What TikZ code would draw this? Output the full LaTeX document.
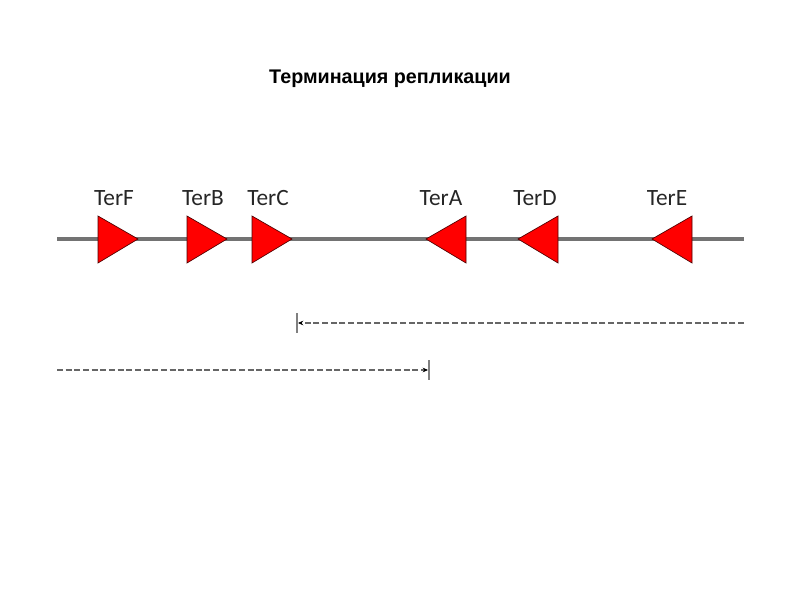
\documentclass[tikz,border=0pt]{standalone}
\usepackage{fontspec}
\setmainfont{Liberation Sans}
\newfontfamily\labelfont{Carlito}
\usetikzlibrary{arrows.meta}
\begin{document}
\begin{tikzpicture}[x=0.75pt,y=-0.75pt,
  terlabel/.style={font=\labelfont\fontsize{17.5}{21}\selectfont, text=black!85, anchor=base, inner sep=0pt},
  tertri/.style={fill=red, draw=black!70!red, line width=0.5pt, line join=miter},
  chrom/.style={draw=black!55, line width=3pt},
  rangeline/.style={draw=black!60, line width=1.1pt, dash pattern=on 4.5pt off 2pt, -{Stealth[length=4pt,width=3.5pt,black]}},
  stopbar/.style={draw=black!50, line width=1.8pt}]
\useasboundingbox (0,0) rectangle (800,600);
\node[font=\bfseries\fontsize{14.8}{17}\selectfont, inner sep=0pt] (title) at (390,79) {Терминация репликации};
% chromosome line
\coordinate (cL) at (57,239);
\coordinate (cR) at (744,239);
\draw[chrom] (cL) -- (cR);
% right pointing triangles
\foreach \nm/\x in {F/98, B/187, C/252} {
  \draw[tertri] (\x,216) -- (\x+40,239) -- (\x,263) -- cycle;
}
% left pointing triangles
\foreach \nm/\x in {A/466, D/558, E/692} {
  \draw[tertri] (\x,216) -- (\x-40,239) -- (\x,263) -- cycle;
}
\node[terlabel] (tF) at (114,205) {TerF};
\node[terlabel] (tB) at (203,205) {TerB};
\node[terlabel] (tC) at (268,205) {TerC};
\node[terlabel] (tA) at (441,205) {TerA};
\node[terlabel] (tD) at (535,205) {TerD};
\node[terlabel] (tE) at (667,205) {TerE};
% range arrows
\coordinate (r1s) at (744,323);
\coordinate (r1e) at (298,323);
\draw[rangeline] (r1s) -- (r1e);
\coordinate (b1t) at (297,313);
\coordinate (b1b) at (297,333);
\draw[stopbar] (b1t) -- (b1b);
\coordinate (r2s) at (57,370);
\coordinate (r2e) at (428,370);
\draw[rangeline] (r2s) -- (r2e);
\coordinate (b2t) at (429,360);
\coordinate (b2b) at (429,380);
\draw[stopbar] (b2t) -- (b2b);
\end{tikzpicture}
\end{document}
